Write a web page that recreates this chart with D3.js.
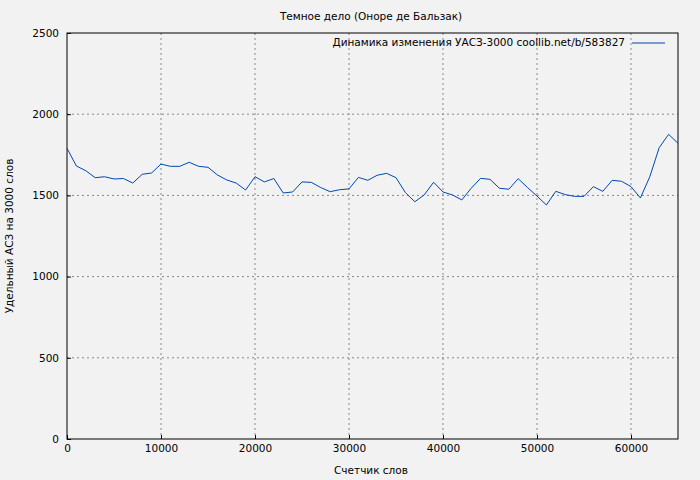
<!DOCTYPE html>
<html><head><meta charset="utf-8">
<script src="https://cdn.jsdelivr.net/npm/d3@7"></script>
<style>body{margin:0;background:#f2f2f2;font-family:"DejaVu Sans",sans-serif;}</style>
</head><body>
<script>
var words = d3.range(0, 66000, 1000);
var values = [1790,1681,1652,1609,1615,1601,1604,1576,1630,1638,
  1693,1679,1679,1704,1679,1673,1626,1595,1576,1533,
  1615,1583,1604,1515,1521,1583,1580,1548,1523,1535,
  1540,1611,1593,1624,1636,1609,1517,1461,1503,1581,
  1521,1503,1472,1544,1605,1599,1544,1538,1603,1548,
  1496,1441,1525,1505,1494,1494,1554,1525,1593,1587,
  1554,1484,1615,1794,1876,1821];
var xTicks = [0,10000,20000,30000,40000,50000,60000];
var yTicks = [0,500,1000,1500,2000,2500];

var W = 700, H = 480, m = {l:67, r:22, t:33, b:41};
var svg = d3.select('body').append('svg').attr('width', W).attr('height', H)
  .style('font-family','"DejaVu Sans",sans-serif');
svg.append('rect').attr('width', W).attr('height', H).attr('fill', '#f2f2f2');

var x = d3.scaleLinear().domain([0, 65000]).range([m.l, 678]);
var y = d3.scaleLinear().domain([0, 2500]).range([H - m.b, m.t]);

// grid
svg.selectAll('.gx').data(xTicks.slice(1)).enter().append('line')
  .attr('x1', x).attr('x2', x).attr('y1', m.t).attr('y2', H - m.b)
  .attr('stroke', '#888').attr('stroke-dasharray', '2,3');
svg.selectAll('.gy').data(yTicks.slice(1, -1)).enter().append('line')
  .attr('x1', m.l).attr('x2', 678).attr('y1', y).attr('y2', y)
  .attr('stroke', '#888').attr('stroke-dasharray', '2,3');

svg.append('g').attr('transform', 'translate(0,' + (H - m.b) + ')')
  .call(d3.axisBottom(x).tickValues(xTicks).tickSize(-4).tickPadding(6).tickFormat(d3.format('d')))
  .call(function (g) { g.select('.domain').remove(); });
svg.append('g').attr('transform', 'translate(' + m.l + ',0)')
  .call(d3.axisLeft(y).tickValues(yTicks).tickSize(-4).tickPadding(8).tickFormat(d3.format('d')))
  .call(function (g) { g.select('.domain').remove(); });
svg.selectAll('.tick text').attr('font-size', 10.5).attr('fill', '#000')
  .style('font-family','"DejaVu Sans",sans-serif');

svg.append('rect').attr('x', m.l).attr('y', m.t).attr('width', 678 - m.l)
  .attr('height', H - m.t - m.b).attr('fill', 'none').attr('stroke', '#000');

svg.append('path').datum(words)
  .attr('d', d3.line().x(function (d) { return x(d); })
    .y(function (d, i) { return y(values[i]); }))
  .attr('fill', 'none').attr('stroke', '#0047b3').attr('stroke-width', 1);

svg.append('text').attr('x', 371).attr('y', 20).attr('text-anchor', 'middle')
  .attr('font-size', 10.5).text('Темное дело (Оноре де Бальзак)');
svg.append('text').attr('x', 371).attr('y', 474).attr('text-anchor', 'middle')
  .attr('font-size', 10.5).text('Счетчик слов');
svg.append('text').attr('transform', 'translate(13,236) rotate(-90)')
  .attr('text-anchor', 'middle').attr('font-size', 10.5).text('Удельный АСЗ на 3000 слов');

svg.append('text').attr('x', 625).attr('y', 46).attr('text-anchor', 'end')
  .attr('font-size', 10.5).text('Динамика изменения УАСЗ-3000 coollib.net/b/583827');
svg.append('line').attr('x1', 632).attr('x2', 665).attr('y1', 43).attr('y2', 43)
  .attr('stroke', '#0047b3');
</script>
</body></html>
